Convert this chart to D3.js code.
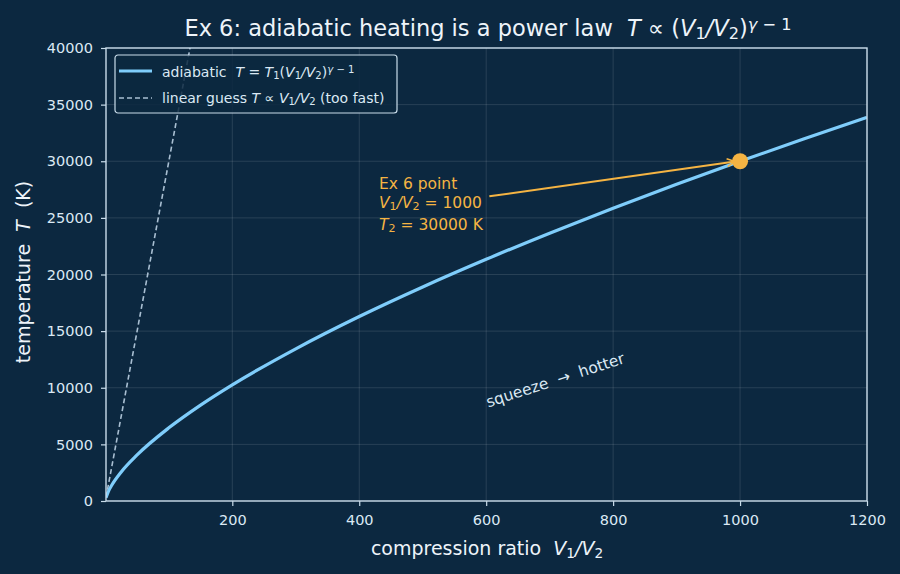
<!DOCTYPE html>
<html>
<head>
<meta charset="utf-8">
<script src="https://cdn.jsdelivr.net/npm/d3@7"></script>
<style>
  html, body { margin: 0; padding: 0; background: #0c2840; }
  svg { display: block; font-family: "DejaVu Sans", sans-serif; }
  text { white-space: pre; }
</style>
</head>
<body>
<div id="chart"></div>
<script>
// values
const ratio = [1, 5, 10, 25, 50, 100, 150, 200, 300, 400, 500, 600, 700, 800, 900, 1000, 1100, 1200];
const adiabaticT = [300, 880, 1390, 2570, 4070, 6460, 8470, 10260, 13440, 16290, 18900, 21340, 23650, 25850, 27960, 30000, 31960, 33870];
const linearRatio = [1, 140];
const linearT = [300, 42000];
const ex6 = { ratio: 1000, T: 30000 };
const xTicks = [200, 400, 600, 800, 1000, 1200];
const yTicks = [0, 5000, 10000, 15000, 20000, 25000, 30000, 35000, 40000];

const width = 900, height = 574;
const margin = { top: 48, right: 33, bottom: 73, left: 106 };
const iw = width - margin.left - margin.right;
const ih = height - margin.top - margin.bottom;

const bg = "#0c2840";
const fg = "#dbe9f4";
const spine = "#c9dcea";
const curveColor = "#7fcdfb";
const dashColor = "#a9bfd2";
const orange = "#f5b443";

const x = d3.scaleLinear().domain([1, 1200]).range([0, iw]);
const y = d3.scaleLinear().domain([0, 40000]).range([ih, 0]);

const svg = d3.select("#chart").append("svg")
  .attr("width", width).attr("height", height);

svg.append("rect").attr("width", width).attr("height", height).attr("fill", bg);

const g = svg.append("g").attr("transform", `translate(${margin.left},${margin.top})`);

svg.append("defs").append("clipPath").attr("id", "plot")
  .append("rect").attr("width", iw).attr("height", ih);

// grid
g.append("g").selectAll("line").data(xTicks).join("line")
  .attr("x1", d => x(d)).attr("x2", d => x(d)).attr("y1", 0).attr("y2", ih)
  .attr("stroke", "#ffffff").attr("stroke-opacity", 0.15).attr("stroke-width", 0.8);
g.append("g").selectAll("line").data(yTicks).join("line")
  .attr("x1", 0).attr("x2", iw).attr("y1", d => y(d)).attr("y2", d => y(d))
  .attr("stroke", "#ffffff").attr("stroke-opacity", 0.15).attr("stroke-width", 0.8);

// axes
const xAxis = g.append("g").attr("transform", `translate(0,${ih})`)
  .call(d3.axisBottom(x).tickValues(xTicks).tickFormat(d3.format("d")).tickSize(5).tickPadding(9));
const yAxis = g.append("g")
  .call(d3.axisLeft(y).tickValues(yTicks).tickFormat(d3.format("d")).tickSize(5).tickPadding(8));
[xAxis, yAxis].forEach(a => {
  a.select(".domain").remove();
  a.selectAll(".tick line").attr("stroke", spine).attr("stroke-width", 1.2);
  a.selectAll(".tick text").attr("fill", fg).style("font-size", "14.5px")
    .style("font-family", "DejaVu Sans");
});

// lines
const line = d3.line().x(d => x(d[0])).y(d => y(d[1]));
const plot = g.append("g").attr("clip-path", "url(#plot)");

plot.append("path")
  .datum(linearRatio.map((r, i) => [r, linearT[i]]))
  .attr("d", line).attr("fill", "none")
  .attr("stroke", dashColor).attr("stroke-width", 1.6).attr("stroke-dasharray", "5,3");

plot.append("path")
  .datum(ratio.map((r, i) => [r, adiabaticT[i]]))
  .attr("d", line.curve(d3.curveMonotoneX)).attr("fill", "none")
  .attr("stroke", curveColor).attr("stroke-width", 3.2);

// spines
g.append("rect").attr("width", iw).attr("height", ih)
  .attr("fill", "none").attr("stroke", spine).attr("stroke-width", 1.4);

// annotation arrow
svg.append("defs").append("marker").attr("id", "arrow")
  .attr("viewBox", "0 0 10 10").attr("refX", 9).attr("refY", 5)
  .attr("markerWidth", 10).attr("markerHeight", 10).attr("orient", "auto")
  .attr("markerUnits", "userSpaceOnUse")
  .append("path").attr("d", "M1,1 L9,5 L1,9").attr("fill", "none")
  .attr("stroke", orange).attr("stroke-width", 1.6);

g.append("line")
  .attr("x1", x(605)).attr("y1", y(26900))
  .attr("x2", x(ex6.ratio) - 5).attr("y2", y(ex6.T) + 0.3)
  .attr("stroke", orange).attr("stroke-width", 2)
  .attr("marker-end", "url(#arrow)");

g.append("circle").attr("cx", x(ex6.ratio)).attr("cy", y(ex6.T)).attr("r", 8)
  .attr("fill", orange);

// math-ish text helper
function rich(sel, parts) {
  sel.attr("xml:space", "preserve");
  parts.forEach(p => {
    const t = sel.append("tspan").text(p.t);
    if (p.i) t.style("font-style", "italic");
    if (p.sub) t.attr("baseline-shift", "-20%").style("font-size", "72%");
    if (p.sup) t.attr("baseline-shift", "40%").style("font-size", "72%");
  });
  return sel;
}
// exponent "γ − 1" with an italic gamma
const powerExp = [{ t: "γ", i: 1, sup: 1 }, { t: " − 1", sup: 1 }];

const ann = g.append("text").attr("fill", orange).style("font-size", "15.5px");
ann.append("tspan").attr("x", 273).attr("y", 141).text("Ex 6 point");
rich(ann.append("tspan").attr("x", 273).attr("y", 160),
  [{ t: "V", i: 1 }, { t: "1", sub: 1 }, { t: "/" , i: 1}, { t: "V", i: 1 }, { t: "2", sub: 1 }, { t: " = 1000" }]);
rich(ann.append("tspan").attr("x", 273).attr("y", 182),
  [{ t: "T", i: 1 }, { t: "2", sub: 1 }, { t: " = 30000 K" }]);

// rotated label
g.append("text")
  .attr("xml:space", "preserve")
  .attr("transform", `translate(${x(600) + 2},${y(8000) - 3}) rotate(-18)`)
  .attr("fill", fg).style("font-size", "15.5px")
  .text("squeeze  →  hotter");

// title
rich(svg.append("text").attr("x", 488).attr("y", 36)
  .attr("text-anchor", "middle").attr("fill", "#eef4fa").style("font-size", "22.5px"),
  [{ t: "Ex 6: adiabatic heating is a power law  " }, { t: "T", i: 1 }, { t: " ∝ (" },
   { t: "V", i: 1 }, { t: "1", sub: 1 }, { t: "/", i: 1 }, { t: "V", i: 1 }, { t: "2", sub: 1 }, { t: ")" },
   ...powerExp]);

// axis labels
rich(svg.append("text").attr("x", 487).attr("y", 555)
  .attr("text-anchor", "middle").attr("fill", "#eef4fa").style("font-size", "19px"),
  [{ t: "compression ratio  " }, { t: "V", i: 1 }, { t: "1", sub: 1 }, { t: "/", i: 1 }, { t: "V", i: 1 }, { t: "2", sub: 1 }]);

rich(svg.append("text").attr("transform", `translate(30,272) rotate(-90)`)
  .attr("text-anchor", "middle").attr("fill", "#eef4fa").style("font-size", "19px"),
  [{ t: "temperature  " }, { t: "T", i: 1 }, { t: "  (K)" }]);

// legend
const lg = g.append("g").attr("transform", "translate(9,7)");
lg.append("rect").attr("width", 282).attr("height", 58).attr("rx", 3)
  .attr("fill", bg).attr("fill-opacity", 0.85)
  .attr("stroke", spine).attr("stroke-width", 1.2);
lg.append("line").attr("x1", 4).attr("x2", 37).attr("y1", 16).attr("y2", 16)
  .attr("stroke", curveColor).attr("stroke-width", 3.2);
lg.append("line").attr("x1", 4).attr("x2", 37).attr("y1", 43).attr("y2", 43)
  .attr("stroke", dashColor).attr("stroke-width", 1.6).attr("stroke-dasharray", "5,3");
rich(lg.append("text").attr("x", 47).attr("y", 22).attr("fill", fg).style("font-size", "14px"),
  [{ t: "adiabatic  " }, { t: "T", i: 1 }, { t: " = " }, { t: "T", i: 1 }, { t: "1", sub: 1 }, { t: "(" },
   { t: "V", i: 1 }, { t: "1", sub: 1 }, { t: "/", i: 1 }, { t: "V", i: 1 }, { t: "2", sub: 1 }, { t: ")" },
   ...powerExp]);
rich(lg.append("text").attr("x", 47).attr("y", 48).attr("fill", fg).style("font-size", "14px"),
  [{ t: "linear guess " }, { t: "T", i: 1 }, { t: " ∝ " },
   { t: "V", i: 1 }, { t: "1", sub: 1 }, { t: "/", i: 1 }, { t: "V", i: 1 }, { t: "2", sub: 1 }, { t: " (too fast)" }]);
</script>
</body>
</html>
